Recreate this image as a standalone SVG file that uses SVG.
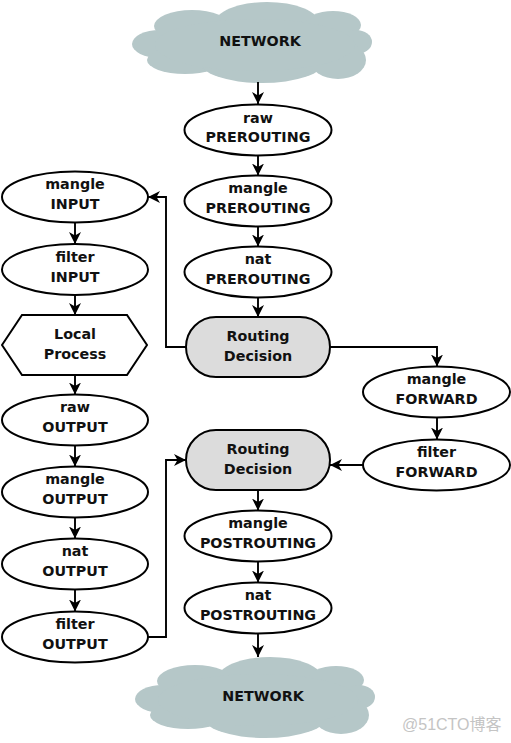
<svg xmlns="http://www.w3.org/2000/svg" width="511" height="743" viewBox="0 0 511 743">
<style>
.n{fill:#fff;stroke:#000;stroke-width:2}
.rd{fill:#dcdcdc;stroke:#000;stroke-width:2}
.t{font-family:"DejaVu Sans",sans-serif;font-weight:bold;font-size:14.3px;fill:#111;text-anchor:middle}
.c{fill:none;stroke:#000;stroke-width:1.9;marker-end:url(#ah)}
.cl{fill:#b5c7c8}
.wm{font-family:"Liberation Sans","Noto Sans CJK SC",sans-serif;font-size:16px;fill:#c4c4c4}
</style>
<defs>
<marker id="ah" markerUnits="userSpaceOnUse" markerWidth="16" markerHeight="14" refX="12" refY="6" orient="auto">
<path d="M0,0 L12,6 L0,12 L3.5,6 z" fill="#000"/>
</marker>
<g id="cloud">
<ellipse class="cl" cx="160" cy="44" rx="28" ry="14"/>
<ellipse class="cl" cx="192" cy="26" rx="38" ry="16"/>
<ellipse class="cl" cx="267" cy="23" rx="52" ry="21"/>
<ellipse class="cl" cx="333" cy="25" rx="28" ry="14"/>
<ellipse class="cl" cx="356" cy="42" rx="16" ry="12"/>
<ellipse class="cl" cx="185" cy="60" rx="38" ry="14"/>
<ellipse class="cl" cx="262" cy="62" rx="62" ry="21"/>
<ellipse class="cl" cx="338" cy="60" rx="28" ry="19"/>
<ellipse class="cl" cx="255" cy="45" rx="100" ry="26"/>
</g>
</defs>
<rect width="511" height="743" fill="#fff"/>

<g id="network-top">
<use href="#cloud"/>
<text class="t" x="260" y="46">NETWORK</text>
</g>
<g id="network-bottom">
<use href="#cloud" transform="translate(3,655)"/>
<text class="t" x="263" y="701">NETWORK</text>
</g>

<g id="raw-prerouting"><ellipse class="n" cx="258" cy="130" rx="73.5" ry="25.5"/><text class="t" x="258" y="123">raw</text><text class="t" x="258" y="142">PREROUTING</text></g>
<g id="mangle-prerouting"><ellipse class="n" cx="258" cy="201" rx="73.5" ry="25.5"/><text class="t" x="258" y="193">mangle</text><text class="t" x="258" y="213">PREROUTING</text></g>
<g id="nat-prerouting"><ellipse class="n" cx="258" cy="272" rx="73.5" ry="25.5"/><text class="t" x="258" y="264">nat</text><text class="t" x="258" y="284">PREROUTING</text></g>
<g id="routing-1"><rect class="rd" x="186" y="317" width="144" height="60" rx="30"/><text class="t" x="258" y="341">Routing</text><text class="t" x="258" y="361">Decision</text></g>
<g id="mangle-forward"><ellipse class="n" cx="436.5" cy="392" rx="73.5" ry="25.5"/><text class="t" x="436.5" y="384">mangle</text><text class="t" x="436.5" y="404">FORWARD</text></g>
<g id="filter-forward"><ellipse class="n" cx="436.5" cy="465" rx="73.5" ry="25.5"/><text class="t" x="436.5" y="457">filter</text><text class="t" x="436.5" y="477">FORWARD</text></g>
<g id="routing-2"><rect class="rd" x="186" y="430" width="144" height="60" rx="30"/><text class="t" x="258" y="454">Routing</text><text class="t" x="258" y="474">Decision</text></g>
<g id="mangle-postrouting"><ellipse class="n" cx="258" cy="536" rx="73.5" ry="25.5"/><text class="t" x="258" y="528">mangle</text><text class="t" x="258" y="548">POSTROUTING</text></g>
<g id="nat-postrouting"><ellipse class="n" cx="258" cy="608" rx="73.5" ry="25.5"/><text class="t" x="258" y="600">nat</text><text class="t" x="258" y="620">POSTROUTING</text></g>

<g id="mangle-input"><ellipse class="n" cx="75" cy="197" rx="73" ry="25.5"/><text class="t" x="75" y="189">mangle</text><text class="t" x="75" y="209">INPUT</text></g>
<g id="filter-input"><ellipse class="n" cx="75" cy="269.5" rx="73" ry="25.5"/><text class="t" x="75" y="262">filter</text><text class="t" x="75" y="282">INPUT</text></g>
<g id="local-process"><polygon class="n" points="2,345 22,315 127,315 147,345 127,375 22,375"/><text class="t" x="75" y="339">Local</text><text class="t" x="75" y="359">Process</text></g>
<g id="raw-output"><ellipse class="n" cx="75" cy="420" rx="73" ry="25.5"/><text class="t" x="75" y="412">raw</text><text class="t" x="75" y="432">OUTPUT</text></g>
<g id="mangle-output"><ellipse class="n" cx="75" cy="492" rx="73" ry="25.5"/><text class="t" x="75" y="484">mangle</text><text class="t" x="75" y="504">OUTPUT</text></g>
<g id="nat-output"><ellipse class="n" cx="75" cy="564" rx="73" ry="25.5"/><text class="t" x="75" y="556">nat</text><text class="t" x="75" y="576">OUTPUT</text></g>
<g id="filter-output"><ellipse class="n" cx="75" cy="637" rx="73" ry="25.5"/><text class="t" x="75" y="629">filter</text><text class="t" x="75" y="649">OUTPUT</text></g>

<g id="connectors">
<path class="c" d="M258,82 L258,104"/>
<path class="c" d="M258,155.5 L258,175.5"/>
<path class="c" d="M258,226.5 L258,246.5"/>
<path class="c" d="M258,297.5 L258,317"/>
<path class="c" d="M186,347 L166,347 L166,197 L148,197"/>
<path class="c" d="M330,347 L437,347 L437,366.5"/>
<path class="c" d="M437,417.5 L437,439.5"/>
<path class="c" d="M363,465 L330,465"/>
<path class="c" d="M75,222.5 L75,244"/>
<path class="c" d="M75,295 L75,315"/>
<path class="c" d="M75,375 L75,394.5"/>
<path class="c" d="M75,445.5 L75,466.5"/>
<path class="c" d="M75,517.5 L75,538.5"/>
<path class="c" d="M75,589.5 L75,611.5"/>
<path class="c" d="M148,637 L166,637 L166,460 L186,460"/>
<path class="c" d="M258,490 L258,510.5"/>
<path class="c" d="M258,561.5 L258,582.5"/>
<path class="c" d="M258,633.5 L258,657"/>
</g>
<text class="wm" x="402" y="730">@51CTO博客</text>
</svg>
